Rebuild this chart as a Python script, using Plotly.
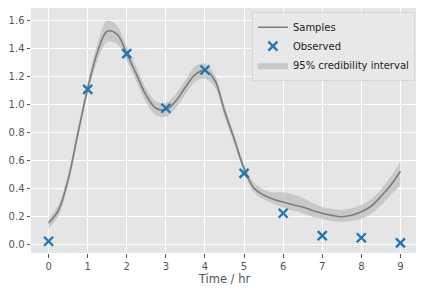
import plotly.graph_objects as go

# Observed data
obs_x = [0, 1, 2, 3, 4, 5, 6, 7, 8, 9]
obs_y = [0.02, 1.105, 1.36, 0.97, 1.243, 0.505, 0.22, 0.06, 0.045, 0.008]

# Posterior mean curve and 95% band
grid_x = [0, 0.25, 0.5, 0.75, 1.0, 1.25, 1.5, 1.75, 2.0, 2.25, 2.5, 2.75, 3.0,
          3.25, 3.5, 3.75, 4.0, 4.25, 4.5, 4.75, 5.0, 5.25, 5.5, 5.75, 6.0,
          6.25, 6.5, 6.75, 7.0, 7.25, 7.5, 7.75, 8.0, 8.25, 8.5, 8.75, 9.0]
mean_y = [0.15, 0.24, 0.46, 0.79, 1.11, 1.37, 1.52, 1.50, 1.36, 1.21, 1.06, 0.97, 0.96,
          1.02, 1.12, 1.21, 1.24, 1.17, 0.95, 0.75, 0.54, 0.40, 0.35, 0.32, 0.30,
          0.28, 0.265, 0.24, 0.22, 0.205, 0.195, 0.205, 0.23, 0.27, 0.34, 0.42, 0.52]
upper_y = [0.18, 0.28, 0.50, 0.83, 1.15, 1.43, 1.595, 1.56, 1.41, 1.26, 1.11, 1.02, 1.01,
           1.07, 1.17, 1.27, 1.29, 1.21, 0.99, 0.78, 0.57, 0.44, 0.39, 0.37, 0.37,
           0.355, 0.33, 0.295, 0.265, 0.25, 0.245, 0.255, 0.28, 0.32, 0.39, 0.48, 0.59]
lower_y = [0.11, 0.20, 0.42, 0.75, 1.07, 1.31, 1.445, 1.43, 1.31, 1.16, 1.01, 0.92, 0.91,
           0.97, 1.07, 1.16, 1.18, 1.12, 0.91, 0.71, 0.51, 0.37, 0.32, 0.29, 0.26,
           0.24, 0.22, 0.195, 0.18, 0.165, 0.16, 0.165, 0.18, 0.215, 0.275, 0.35, 0.42]

x_ticks = [0, 1, 2, 3, 4, 5, 6, 7, 8, 9]
y_ticks = [0.0, 0.2, 0.4, 0.6, 0.8, 1.0, 1.2, 1.4, 1.6]

fig = go.Figure()
fig.add_trace(go.Scatter(x=grid_x, y=lower_y, mode="lines", line=dict(width=0, shape="spline"),
                         showlegend=False, hoverinfo="skip"))
fig.add_trace(go.Scatter(x=grid_x, y=upper_y, mode="lines", line=dict(width=0, shape="spline"),
                         fill="tonexty", fillcolor="rgba(190,190,190,0.75)",
                         name="95% credibility interval", legendrank=3))
fig.add_trace(go.Scatter(x=grid_x, y=mean_y, mode="lines",
                         line=dict(color="#7c7c7c", width=1.6, shape="spline"),
                         name="Samples", legendrank=1))
fig.add_trace(go.Scatter(x=obs_x, y=obs_y, mode="markers",
                         marker=dict(symbol="x-thin", size=9, line=dict(color="#1f77b4", width=2.4),
                                     color="#1f77b4"),
                         name="Observed", legendrank=2))

axis_common = dict(showgrid=True, gridcolor="white", gridwidth=1, zeroline=False,
                   ticks="outside", ticklen=3.5, tickwidth=1, tickcolor="#555555",
                   tickfont=dict(size=10, color="#555555"), showline=False, automargin=False)

# The page body adds an 8px offset; the figure is sized to fill the rest of the window.
fig.update_layout(
    width=416, height=287,
    margin=dict(l=23, r=6, t=0, b=42),
    paper_bgcolor="white", plot_bgcolor="#e5e5e5",
    font=dict(family="DejaVu Sans", color="#555555"),
    xaxis=dict(range=[-0.45, 9.45], tickvals=x_ticks, **axis_common,
               title=dict(text="Time / hr", font=dict(size=11.5, color="#555555"), standoff=4)),
    yaxis=dict(range=[-0.064, 1.686], tickvals=y_ticks, tickformat=".1f", **axis_common),
    legend=dict(x=0.992, y=0.985, xanchor="right", yanchor="top", traceorder="normal",
                bgcolor="rgba(232,232,232,0.9)", bordercolor="#d6d6d6", borderwidth=1,
                font=dict(size=10, color="#222222"), tracegroupgap=0, itemwidth=30),
)

fig.write_html("out.html")
